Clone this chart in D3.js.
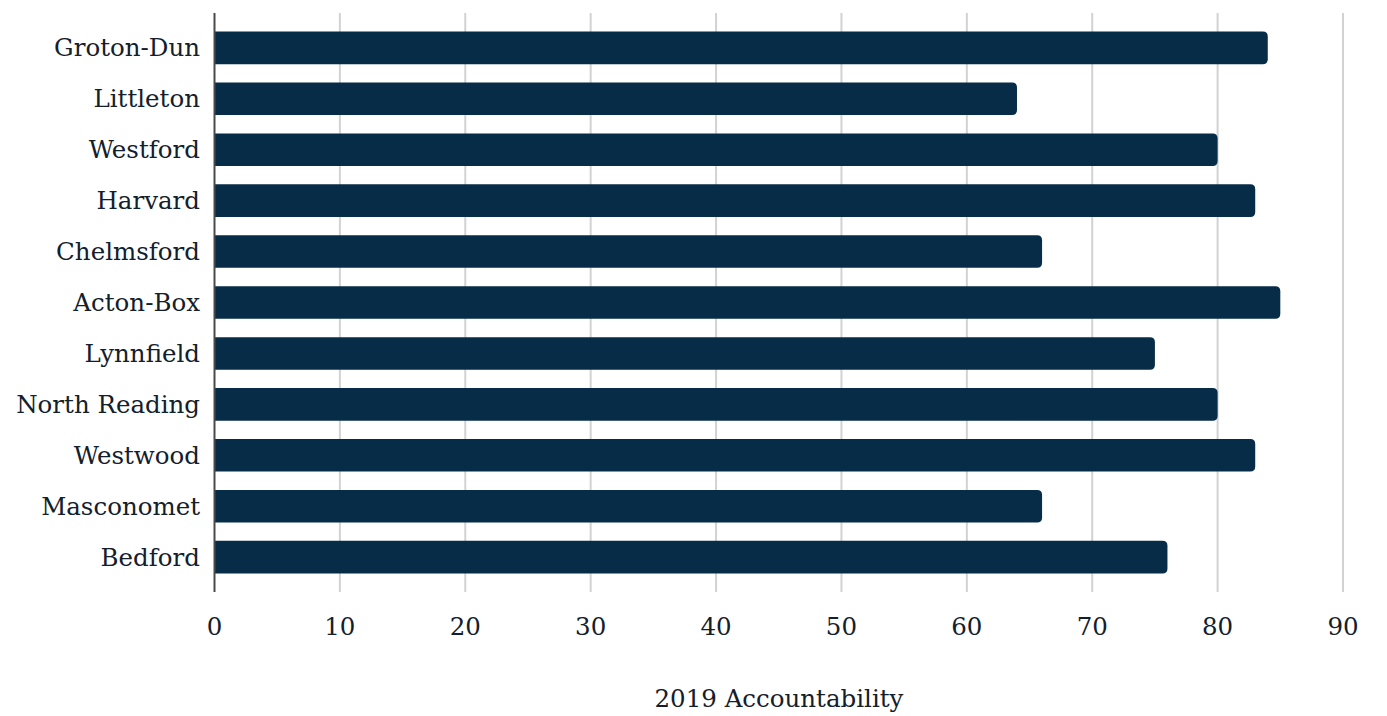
<!DOCTYPE html>
<html>
<head>
<meta charset="utf-8">
<script src="https://cdn.jsdelivr.net/npm/d3@7"></script>
<style>
  body { margin: 0; background: #fff; }
  text { font-family: "DejaVu Serif", Georgia, serif; fill: #13202b; }
</style>
</head>
<body>
<div id="canvas"></div>
<script>
var districts = ["Groton-Dun", "Littleton", "Westford", "Harvard", "Chelmsford", "Acton-Box",
  "Lynnfield", "North Reading", "Westwood", "Masconomet", "Bedford"];
var accountability = [84, 64, 80, 83, 66, 85, 75, 80, 83, 66, 76];
var x_ticks = [0, 10, 20, 30, 40, 50, 60, 70, 80, 90];
var x_title = "2019 Accountability";

var canvas_w = 1387;
var canvas_h = 716;

var canvas = d3.select("#canvas").append("svg")
  .attr("width", canvas_w)
  .attr("height", canvas_h);

var x = d3.scaleLinear().domain([0, 90]).range([214.5, 1343]);
var y = d3.scaleBand().domain(districts).range([13, 592])
  .paddingInner(0.36).paddingOuter(0.365);

// Gridlines
canvas.append("g").selectAll("line")
  .data(x_ticks.slice(1))
  .join("line")
  .attr("x1", d => x(d)).attr("x2", d => x(d))
  .attr("y1", 13).attr("y2", 592)
  .style("stroke", "#d2d2d2")
  .style("stroke-width", 2);

// Bars, rounded at the end only
function barPath(x0, x1, y0, h, r) {
  return "M" + x0 + "," + y0 +
    " H" + (x1 - r) +
    " Q" + x1 + "," + y0 + " " + x1 + "," + (y0 + r) +
    " V" + (y0 + h - r) +
    " Q" + x1 + "," + (y0 + h) + " " + (x1 - r) + "," + (y0 + h) +
    " H" + x0 + " Z";
}

canvas.append("g").selectAll("path")
  .data(districts)
  .join("path")
  .attr("d", (d, i) => barPath(x(0), x(accountability[i]), y(d), y.bandwidth(), 5))
  .style("fill", "#072c48");

// Vertical axis line
canvas.append("line")
  .attr("x1", x(0)).attr("x2", x(0))
  .attr("y1", 13).attr("y2", 592)
  .style("stroke", "#4a4a4a")
  .style("stroke-width", 2);

// Category labels
canvas.append("g").selectAll("text")
  .data(districts)
  .join("text")
  .attr("x", 200)
  .attr("y", d => y(d) + y.bandwidth() / 2)
  .attr("dy", "0.35em")
  .attr("text-anchor", "end")
  .style("font-size", "24.5px")
  .text(d => d);

// X tick labels
canvas.append("g").selectAll("text")
  .data(x_ticks)
  .join("text")
  .attr("x", d => x(d))
  .attr("y", 626)
  .attr("dy", "0.35em")
  .attr("text-anchor", "middle")
  .style("font-size", "24.5px")
  .text(d => d);

// Axis title
canvas.append("text")
  .attr("x", 779)
  .attr("y", 698)
  .attr("dy", "0.35em")
  .attr("text-anchor", "middle")
  .style("font-size", "24.5px")
  .text(x_title);
</script>
</body>
</html>
